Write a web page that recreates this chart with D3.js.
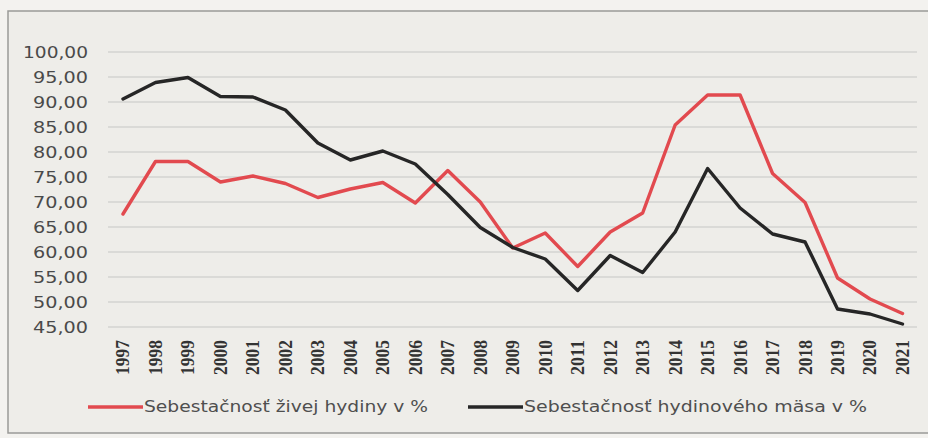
<!DOCTYPE html>
<html><head><meta charset="utf-8">
<script src="https://cdn.jsdelivr.net/npm/d3@7/dist/d3.min.js"></script>
<style>
html,body{margin:0;padding:0;background:#f3f2ef;}
svg{display:block;}
</style></head>
<body>
<svg id="chart" width="928" height="438"></svg>
<script>
const years = ["1997","1998","1999","2000","2001","2002","2003","2004","2005","2006","2007","2008","2009","2010","2011","2012","2013","2014","2015","2016","2017","2018","2019","2020","2021"];
const liveBirds = [67.6,78.1,78.1,74.0,75.2,73.7,70.9,72.6,73.9,69.8,76.3,70.0,60.8,63.8,57.1,64.0,67.8,85.4,91.4,91.4,75.7,69.9,54.8,50.6,47.7];
const poultryMeat = [90.6,93.9,94.9,91.1,91.0,88.4,81.8,78.4,80.2,77.6,71.5,64.9,60.9,58.6,52.3,59.3,55.9,64.0,76.7,68.8,63.6,62.0,48.6,47.6,45.6];
const yTicks = [45,50,55,60,65,70,75,80,85,90,95,100];
const seriesNames = ["Sebestačnosť živej hydiny v %","Sebestačnosť hydinového mäsa v %"];
const seriesColors = ["#e24a4f","#262626"];

const svg = d3.select("#chart");
// panel
svg.append("rect").attr("x",8).attr("y",11).attr("width",930).attr("height",422)
  .attr("fill","#eeede9").attr("stroke","#9a9a98").attr("stroke-width",1.5);

const x = d3.scalePoint().domain(years).range([123,902.5]);
const y = d3.scaleLinear().domain([45,100]).range([327,52]);

// gridlines
svg.append("g").selectAll("line").data(yTicks).join("line")
  .attr("x1",108).attr("x2",917)
  .attr("y1",d=>y(d)).attr("y2",d=>y(d))
  .attr("stroke","#d3d3d0").attr("stroke-width",1.5);

// y axis
const yAxis = d3.axisLeft(y).tickValues(yTicks).tickSize(0).tickPadding(0)
  .tickFormat(d=>d3.format(".2f")(d).replace(".",","));
const gy = svg.append("g").attr("transform","translate(88,0)").call(yAxis);
gy.select(".domain").remove();
gy.selectAll("text").attr("font-family","DejaVu Sans").attr("font-size",16)
  .attr("fill","#4a4a4a").attr("dy","0.35em")
  .attr("textLength",d=>d>=100?65:55).attr("lengthAdjust","spacingAndGlyphs");

// x axis
const xAxis = d3.axisBottom(x).tickSize(0).tickPadding(0);
const gx = svg.append("g").attr("transform","translate(0,340)").call(xAxis);
gx.select(".domain").remove();
gx.selectAll("text").attr("font-family","Liberation Serif").attr("font-size",18)
  .attr("font-weight","bold").attr("fill","#333")
  .attr("text-anchor","end").attr("dy","0.33em").attr("dx","0")
  .attr("y",0).attr("transform","rotate(-90)")
  .attr("textLength",35).attr("lengthAdjust","spacingAndGlyphs");

// lines
const line = d3.line().x((d,i)=>x(years[i])).y(d=>y(d));
[liveBirds,poultryMeat].forEach((s,k)=>{
  svg.append("path").datum(s).attr("d",line).attr("fill","none")
    .attr("stroke",seriesColors[k]).attr("stroke-width",3.4)
    .attr("stroke-linejoin","round").attr("stroke-linecap","round");
});

// legend
const legendX = [[88,143],[468,523]];
const legendLen = [284,343];
seriesNames.forEach((n,k)=>{
  svg.append("line").attr("x1",legendX[k][0]).attr("x2",legendX[k][1])
    .attr("y1",407).attr("y2",407).attr("stroke",seriesColors[k]).attr("stroke-width",3.5);
  svg.append("text").attr("x",legendX[k][1]+1).attr("y",407).attr("dy","0.35em")
    .attr("font-family","DejaVu Sans").attr("font-size",15).attr("fill","#4f4f4f")
    .attr("textLength",legendLen[k]).attr("lengthAdjust","spacingAndGlyphs").text(n);
});
</script>
</body></html>
